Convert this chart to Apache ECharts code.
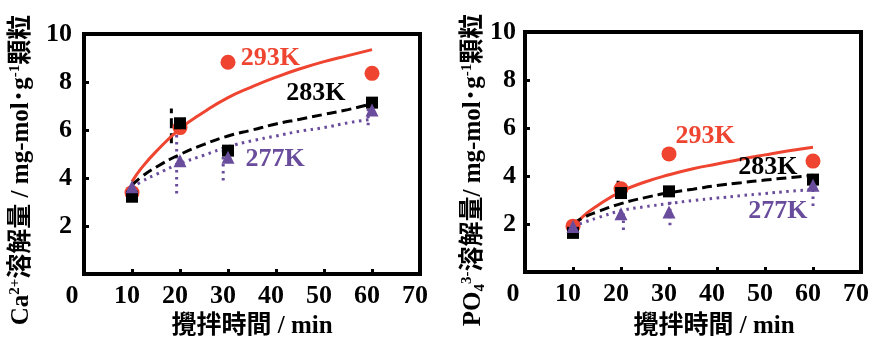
<!DOCTYPE html>
<html><head><meta charset="utf-8">
<script src="https://cdn.jsdelivr.net/npm/echarts@6/dist/echarts.min.js"></script>
<style>html,body{margin:0;padding:0;background:#fff}#c{width:875px;height:340px}</style>
</head><body><div id="c"></div>
<script>
// measured points
const times = [10, 20, 30, 60];
const ca293 = [3.39, 6.10, 8.82, 8.36];
const ca283 = [3.22, 6.28, 5.14, 7.14];
const ca277 = [3.64, 4.72, 4.86, 6.83];
const po293 = [1.91, 3.47, 4.92, 4.62];
const po283 = [1.63, 3.29, 3.36, 3.85];
const po277 = [1.90, 2.43, 2.50, 3.61];
// fitted trend curves
const fitX = [10, 12, 15, 20, 25, 30, 35, 40, 45, 50, 55, 60];
const caFit293 = [3.85, 4.42, 5.1, 6.05, 6.75, 7.35, 7.8, 8.2, 8.55, 8.85, 9.1, 9.35];
const caFit283 = [3.7, 4.05, 4.45, 4.98, 5.4, 5.75, 6.0, 6.25, 6.45, 6.65, 6.85, 7.1];
const caFit277 = [3.6, 3.85, 4.15, 4.6, 4.95, 5.3, 5.55, 5.75, 5.95, 6.1, 6.3, 6.45];
const poFit293 = [1.85, 2.3, 2.75, 3.35, 3.75, 4.05, 4.3, 4.5, 4.7, 4.88, 5.05, 5.2];
const poFit283 = [2.0, 2.25, 2.5, 2.85, 3.1, 3.3, 3.45, 3.6, 3.72, 3.83, 3.93, 4.03];
const poFit277 = [1.9, 2.05, 2.25, 2.55, 2.72, 2.85, 2.98, 3.08, 3.18, 3.27, 3.36, 3.44];
// error bars [x, low, high]
const caErr283 = [[18.2, 5.45, 6.9]];
const caErr277 = [[19.3, 3.35, 5.9], [29.0, 3.9, 5.3], [59.2, 6.2, 7.2]];
const poErr283 = [[19.4, 3.3, 3.8]];
const poErr277 = [[20.5, 1.75, 2.45], [30.2, 1.95, 3.0], [60.0, 2.75, 4.1]];
// series label anchors [x, y]
const caLbl = { '293K': [38.8, 9.0], '283K': [48.3, 7.54], '277K': [39.8, 4.79] };
const poLbl = { '293K': [37.5, 5.64], '283K': [50.6, 4.36], '277K': [52.7, 2.53] };
const xTickLabels = [0, 10, 20, 30, 40, 50, 60, 70];
const yTickLabels = [2, 4, 6, 8, 10];

const RED = '#ee4430', BLACK = '#000000', PURPLE = '#6a4c9c';
const SERIF = '"Liberation Serif","Times New Roman","Noto Sans CJK JP",serif';
const TITLEFONT = '"Liberation Serif","Noto Sans CJK JP",serif';

const chart = echarts.init(document.getElementById('c'));

function zip(xs, ys) { return xs.map((x, i) => [x, ys[i]]); }

function axisPair(idx) {
  const x = {
    type: 'value', gridIndex: idx, min: 0, max: 70, interval: 10,
    axisLine: { show: true, onZero: false, lineStyle: { color: '#000', width: 4 } },
    axisTick: { show: true, inside: true, length: 5, lineStyle: { color: '#000', width: 3 } },
    axisLabel: {
      margin: 9, color: '#000', fontSize: 26, fontWeight: 'bold', fontFamily: SERIF,
      padding: [0, 10, 0, 0],
      formatter: v => xTickLabels.includes(v) ? (v === 0 ? '{z|0}' : String(v)) : '',
      rich: { z: { fontSize: 26, fontWeight: 'bold', fontFamily: SERIF, color: '#000', padding: [0, 14, 0, 0] } }
    },
    splitLine: { show: false }
  };
  const y = {
    type: 'value', gridIndex: idx, min: 0, max: 10, interval: 2,
    axisLine: { show: true, onZero: false, lineStyle: { color: '#000', width: 4 } },
    axisTick: { show: true, inside: true, length: 5, lineStyle: { color: '#000', width: 3 } },
    axisLabel: {
      margin: idx === 0 ? 12 : 9, color: '#000', fontSize: 26, fontWeight: 'bold', fontFamily: SERIF,
      showMinLabel: false,
      formatter: v => yTickLabels.includes(v) ? String(v) : ''
    },
    splitLine: { show: false }
  };
  return [x, y];
}

const ax0 = axisPair(0), ax1 = axisPair(1);

function lineType(type) {
  return type === 'dashed' ? [10, 5] : (type === 'dotted' ? [2.5, 4.5] : 'solid');
}
function fitLine(idx, ys, color, type, z) {
  return {
    type: 'line', xAxisIndex: idx, yAxisIndex: idx, data: zip(fitX, ys), smooth: true,
    showSymbol: false, symbol: 'none', silent: true, z: z,
    lineStyle: { color: color, width: 3, type: lineType(type) }
  };
}
function errLines(idx, arr, color, type) {
  return arr.map(e => ({
    type: 'line', xAxisIndex: idx, yAxisIndex: idx, data: [[e[0], e[1]], [e[0], e[2]]],
    showSymbol: false, symbol: 'none', silent: true, z: 1,
    lineStyle: { color: color, width: 3, type: lineType(type) }
  }));
}
function pts(idx, ys, color, symbol, size, z) {
  return {
    type: 'scatter', xAxisIndex: idx, yAxisIndex: idx, data: zip(times, ys),
    symbol: symbol, symbolSize: size, itemStyle: { color: color, opacity: 1 }, z: z, silent: true
  };
}
function lbl(idx, pos, text, color) {
  return {
    type: 'scatter', xAxisIndex: idx, yAxisIndex: idx, data: [pos], symbolSize: 1,
    itemStyle: { color: 'rgba(255,255,255,0)', opacity: 1 }, z: 10, silent: true,
    label: {
      show: true, position: 'inside', formatter: text, color: color, fontSize: 26, fontWeight: 'bold',
      fontFamily: SERIF, textBorderWidth: 0, textBorderColor: 'transparent', textShadowBlur: 0
    }
  };
}

const series = [];
// left chart
series.push(fitLine(0, caFit293, RED, 'solid', 3));
series.push(fitLine(0, caFit283, BLACK, 'dashed', 3));
series.push(fitLine(0, caFit277, PURPLE, 'dotted', 3));
series.push(...errLines(0, caErr283, BLACK, 'dashed'));
series.push(...errLines(0, caErr277, PURPLE, 'dotted'));
series.push(pts(0, ca293, RED, 'circle', 15, 4));
series.push(pts(0, ca283, BLACK, 'rect', 12, 5));
series.push(pts(0, ca277, PURPLE, 'triangle', 13, 6));
Object.keys(caLbl).forEach(k => series.push(lbl(0, caLbl[k], k, k === '293K' ? RED : (k === '283K' ? BLACK : PURPLE))));
// right chart
series.push(fitLine(1, poFit293, RED, 'solid', 3));
series.push(fitLine(1, poFit283, BLACK, 'dashed', 3));
series.push(fitLine(1, poFit277, PURPLE, 'dotted', 3));
series.push(...errLines(1, poErr283, BLACK, 'solid'));
series.push(...errLines(1, poErr277, PURPLE, 'dotted'));
series.push(pts(1, po293, RED, 'circle', 15, 4));
series.push(pts(1, po283, BLACK, 'rect', 12, 5));
series.push(pts(1, po277, PURPLE, 'triangle', 13, 6));
Object.keys(poLbl).forEach(k => series.push(lbl(1, poLbl[k], k, k === '293K' ? RED : (k === '283K' ? BLACK : PURPLE))));

const supStyle = { fontSize: 15, fontWeight: 'bold', fontFamily: SERIF, fill: '#000', verticalAlign: 'top', lineHeight: 28 };
const subStyle = { fontSize: 15, fontWeight: 'bold', fontFamily: SERIF, fill: '#000', verticalAlign: 'bottom', lineHeight: 28 };
const baseFont = 'bold 25px ' + TITLEFONT;

function vTitle(cx, cy, text) {
  return {
    type: 'text', x: cx, y: cy, rotation: Math.PI / 2, z: 20,
    style: {
      text: text, x: 0, y: 0, font: baseFont, fill: '#000', align: 'center', verticalAlign: 'middle',
      textAlign: 'center', textVerticalAlign: 'middle', lineHeight: 28,
      rich: { sup: supStyle, sub: subStyle, b: { fontSize: 25, fontWeight: 'bold', fontFamily: TITLEFONT, fill: '#000', lineHeight: 28 } }
    }
  };
}
function hTitle(cx, cy, text) {
  return {
    type: 'text', x: cx, y: cy, z: 20,
    style: { text: text, x: 0, y: 0, font: baseFont, fill: '#000', align: 'center', verticalAlign: 'middle', textAlign: 'center', textVerticalAlign: 'middle' }
  };
}

chart.setOption({
  animation: false,
  backgroundColor: '#fff',
  grid: [
    { left: 84, top: 34, width: 336, height: 240, show: true, borderColor: '#000', borderWidth: 4, backgroundColor: 'transparent' },
    { left: 525, top: 32, width: 336, height: 240, show: true, borderColor: '#000', borderWidth: 4, backgroundColor: 'transparent' }
  ],
  xAxis: [ax0[0], ax1[0]],
  yAxis: [ax0[1], ax1[1]],
  series: series,
  graphic: [
    vTitle(22, 170, '{b|Ca}{sup|2+}{b|溶解量 / mg-mol･g}{sup|-1}{b|顆粒}'),
    vTitle(474, 170, '{b|PO}{sub|4}{sup|3-}{b|溶解量/ mg-mol･g}{sup|-1}{b|顆粒}'),
    hTitle(252, 327, '攪拌時間 / min'),
    hTitle(714, 327, '攪拌時間 / min')
  ]
});
</script>
</body></html>
